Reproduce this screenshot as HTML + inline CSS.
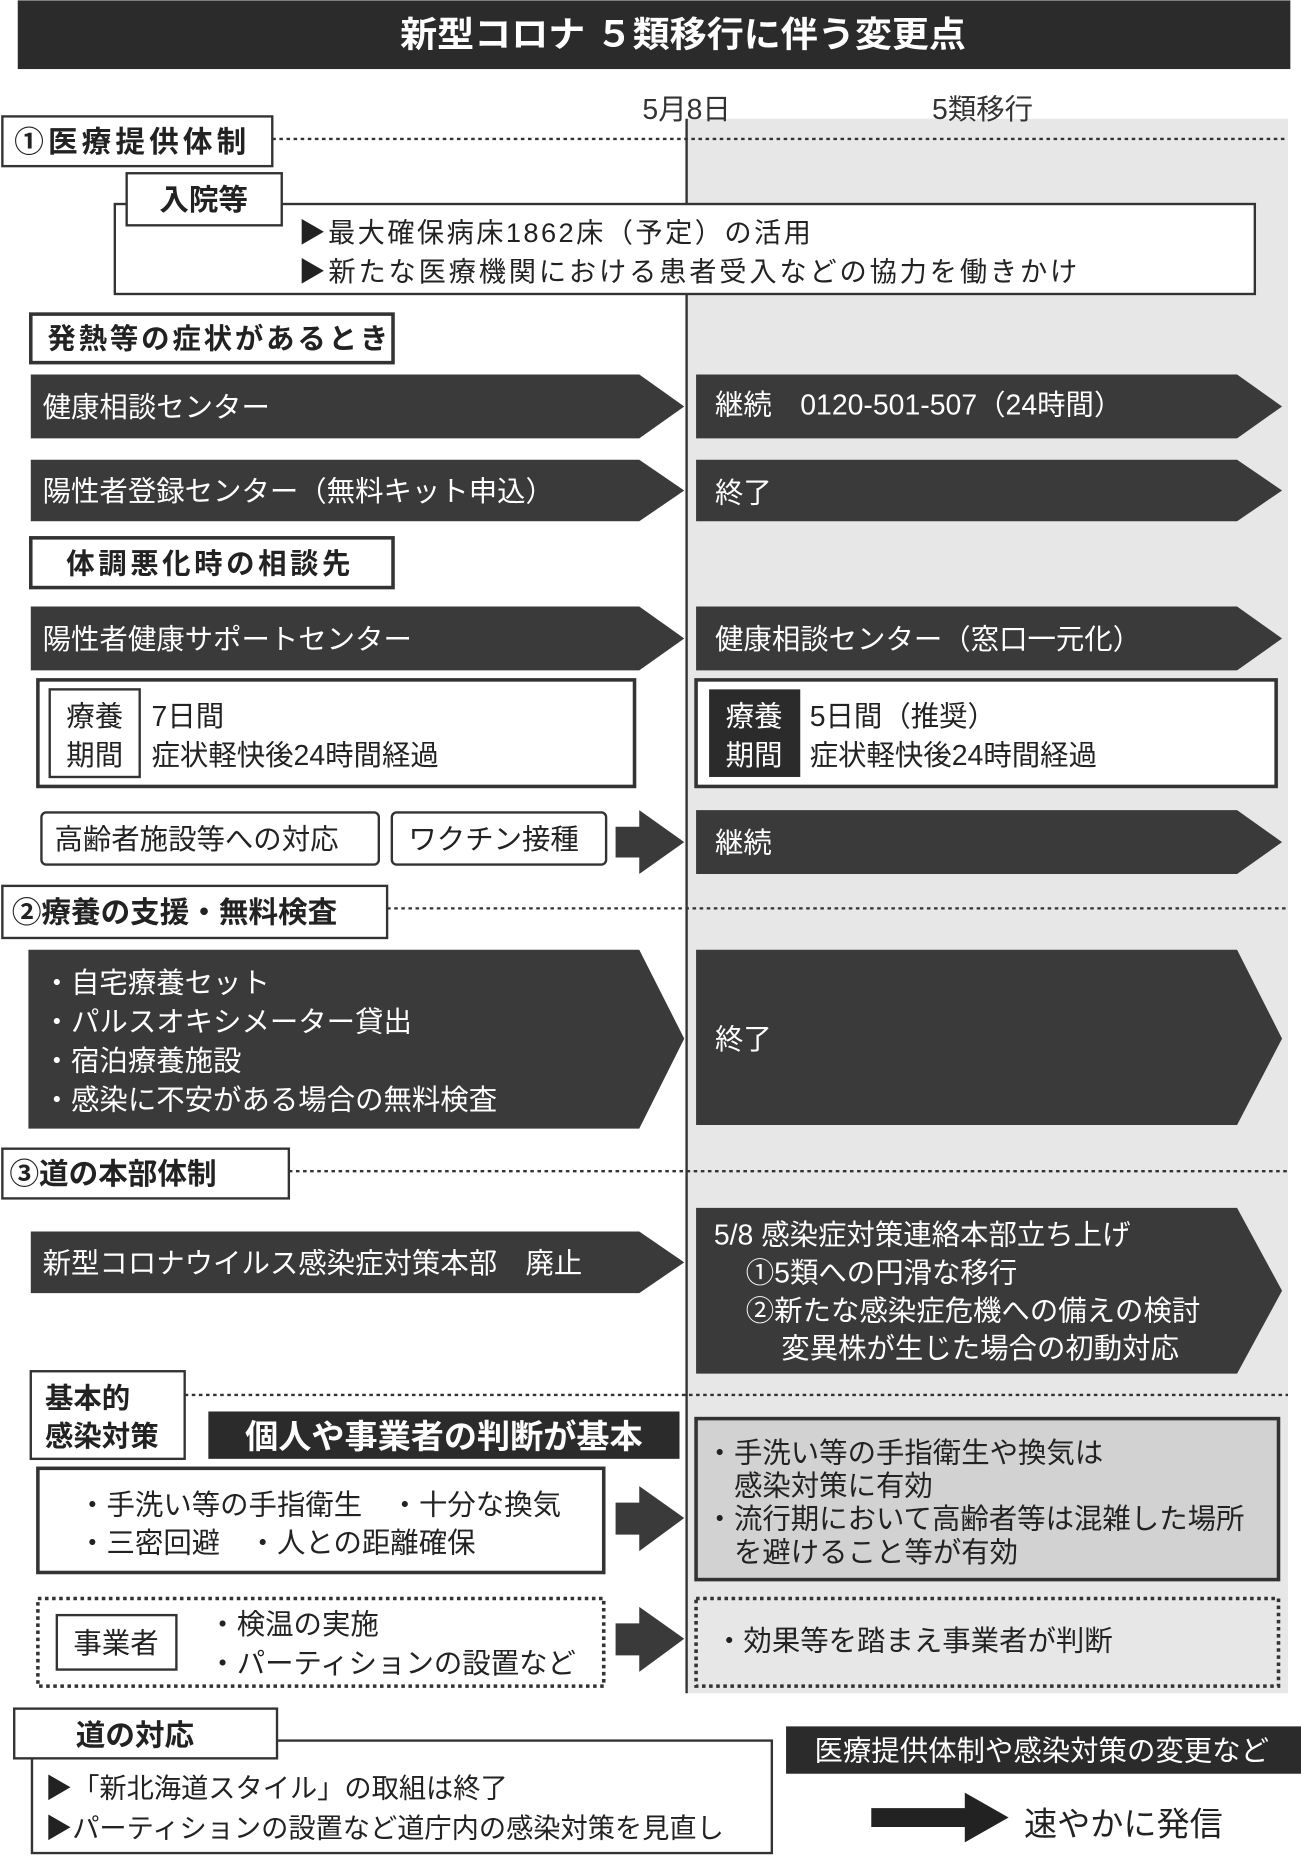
<!DOCTYPE html>
<html><head><meta charset="utf-8"><style>
html,body{margin:0;padding:0;background:#fff;}
svg{display:block;}
text{font-family:"Liberation Sans","Noto Sans CJK JP",sans-serif;}
.b{font-weight:bold;}
</style></head><body>
<svg width="1301" height="1857" viewBox="0 0 1099 1568" xmlns="http://www.w3.org/2000/svg">
<rect x="0" y="0" width="1099" height="1568" fill="#fff"/>
<rect x="15" y="0" width="1075" height="58" fill="#2b2b2b"/>
<text x="338" y="39" font-size="30" fill="#fff" class="b" textLength="478" lengthAdjust="spacingAndGlyphs">新型コロナ ５類移行に伴う変更点</text>
<rect x="580" y="100" width="508" height="1330" fill="#e7e7e7"/>
<line x1="580" y1="100" x2="580" y2="1430" stroke="#333" stroke-width="2"/>
<text x="580" y="100" font-size="24" fill="#333" text-anchor="middle">5月8日</text>
<text x="830" y="100" font-size="24" fill="#333" text-anchor="middle">5類移行</text>

<g stroke="#333" stroke-width="2" stroke-dasharray="3,3" fill="none">
<line x1="230" y1="117" x2="1088" y2="117"/>
<line x1="327" y1="767" x2="1088" y2="767"/>
<line x1="244" y1="989" x2="1088" y2="989"/>
<line x1="156" y1="1178" x2="1088" y2="1178"/>
</g>

<rect x="2" y="98" width="228" height="42" fill="#fff" stroke="#333" stroke-width="2"/>
<text x="12" y="128" font-size="25" class="b" fill="#222" textLength="196">①医療提供体制</text>
<rect x="97" y="172" width="963" height="76" fill="#fff" stroke="#333" stroke-width="2"/>
<rect x="107" y="146" width="131" height="44" fill="#fff" stroke="#333" stroke-width="2"/>
<text x="172" y="177" font-size="25" class="b" fill="#222" text-anchor="middle">入院等</text>
<text x="252" y="204" font-size="23" fill="#222" textLength="433">▶最大確保病床1862床（予定）の活用</text>
<text x="252" y="237" font-size="23" fill="#222" textLength="658">▶新たな医療機関における患者受入などの協力を働きかけ</text>

<rect x="26" y="265" width="306" height="41" fill="#fff" stroke="#333" stroke-width="3"/>
<text x="40" y="294" font-size="24" class="b" fill="#222" textLength="288">発熱等の症状があるとき</text>

<g fill="#3a3a3a">
<polygon points="26,316 540,316 578,343 540,370 26,370"/>
<polygon points="588,316 1045,316 1083,343 1045,370 588,370"/>
<polygon points="26,388 540,388 578,414 540,440 26,440"/>
<polygon points="588,388 1045,388 1083,414 1045,440 588,440"/>
<polygon points="26,512 540,512 578,539 540,566 26,566"/>
<polygon points="588,512 1045,512 1083,539 1045,566 588,566"/>
<polygon points="588,684 1045,684 1083,711 1045,738 588,738"/>
<polygon points="520,698 540,698 540,684 578,711 540,738 540,724 520,724"/>
<polygon points="24,802 540,802 578,877 540,953 24,953"/>
<polygon points="588,802 1045,802 1083,877 1045,950 588,950"/>
<polygon points="26,1040 540,1040 578,1066 540,1092 26,1092"/>
<polygon points="588,1020 1045,1020 1083,1090 1045,1160 588,1160"/>
<polygon points="520,1269 540,1269 540,1255 578,1282 540,1310 540,1296 520,1296"/>
<polygon points="520,1371 540,1371 540,1357 578,1384 540,1412 540,1398 520,1398"/>
</g>
<g fill="#fff" font-size="24">
<text x="36" y="352">健康相談センター</text>
<text x="604" y="350">継続　0120-501-507（24時間）</text>
<text x="36" y="423">陽性者登録センター（無料キット申込）</text>
<text x="604" y="424">終了</text>
<text x="36" y="548">陽性者健康サポートセンター</text>
<text x="604" y="548">健康相談センター（窓口一元化）</text>
<text x="604" y="720">継続</text>
<text x="36" y="838">・自宅療養セット</text>
<text x="36" y="871">・パルスオキシメーター貸出</text>
<text x="36" y="904">・宿泊療養施設</text>
<text x="36" y="937">・感染に不安がある場合の無料検査</text>
<text x="604" y="886">終了</text>
<text x="36" y="1075">新型コロナウイルス感染症対策本部　廃止</text>
<text x="603" y="1051">5/8 感染症対策連絡本部立ち上げ</text>
<text x="630" y="1083">①5類への円滑な移行</text>
<text x="630" y="1115">②新たな感染症危機への備えの検討</text>
<text x="660" y="1147">変異株が生じた場合の初動対応</text>
</g>

<rect x="26" y="454" width="306" height="42" fill="#fff" stroke="#333" stroke-width="3"/>
<text x="56" y="484" font-size="24" class="b" fill="#222" textLength="240">体調悪化時の相談先</text>

<rect x="32" y="574" width="504" height="90" fill="#fff" stroke="#333" stroke-width="3"/>
<rect x="42" y="582" width="76" height="74" fill="#fff" stroke="#333" stroke-width="2"/>
<g font-size="24" fill="#222">
<text x="80" y="613" text-anchor="middle">療養</text>
<text x="80" y="646" text-anchor="middle">期間</text>
<text x="128" y="613">7日間</text>
<text x="128" y="646">症状軽快後24時間経過</text>
</g>
<rect x="588" y="574" width="490" height="90" fill="#fff" stroke="#333" stroke-width="3"/>
<rect x="599" y="582" width="77" height="74" fill="#2b2b2b"/>
<g font-size="24">
<text x="637" y="613" text-anchor="middle" fill="#fff">療養</text>
<text x="637" y="646" text-anchor="middle" fill="#fff">期間</text>
<text x="684" y="613" fill="#222">5日間（推奨）</text>
<text x="684" y="646" fill="#222">症状軽快後24時間経過</text>
</g>

<rect x="35" y="686" width="285" height="44" rx="4" fill="#fff" stroke="#333" stroke-width="2"/>
<text x="46" y="717" font-size="24" fill="#222">高齢者施設等への対応</text>
<rect x="331" y="686" width="181" height="44" rx="4" fill="#fff" stroke="#333" stroke-width="2"/>
<text x="345" y="717" font-size="24" fill="#222">ワクチン接種</text>

<rect x="2" y="748" width="325" height="44" fill="#fff" stroke="#333" stroke-width="2"/>
<text x="10" y="779" font-size="25" class="b" fill="#222">②療養の支援・無料検査</text>

<rect x="2" y="970" width="242" height="42" fill="#fff" stroke="#333" stroke-width="2"/>
<text x="8" y="1000" font-size="25" class="b" fill="#222">③道の本部体制</text>

<rect x="26" y="1158" width="130" height="74" fill="#fff" stroke="#333" stroke-width="2"/>
<text x="38" y="1189" font-size="24" class="b" fill="#222">基本的</text>
<text x="38" y="1221" font-size="24" class="b" fill="#222">感染対策</text>
<rect x="176" y="1192" width="398" height="40" fill="#2b2b2b"/>
<text x="375" y="1223" font-size="28" class="b" fill="#fff" text-anchor="middle">個人や事業者の判断が基本</text>
<rect x="32" y="1240" width="478" height="88" fill="#fff" stroke="#333" stroke-width="3"/>
<text x="66" y="1279" font-size="24" fill="#222">・手洗い等の手指衛生　・十分な換気</text>
<text x="66" y="1311" font-size="24" fill="#222">・三密回避　・人との距離確保</text>
<rect x="588" y="1198" width="492" height="136" fill="#d2d2d2" stroke="#333" stroke-width="3"/>
<g font-size="24" fill="#222">
<text x="596" y="1235">・手洗い等の手指衛生や換気は</text>
<text x="620" y="1263">感染対策に有効</text>
<text x="596" y="1291">・流行期において高齢者等は混雑した場所</text>
<text x="620" y="1319">を避けること等が有効</text>
</g>
<rect x="32" y="1350" width="478" height="74" fill="#fff" stroke="#333" stroke-width="3" stroke-dasharray="3,3"/>
<rect x="48" y="1364" width="101" height="46" fill="#fff" stroke="#333" stroke-width="2"/>
<text x="98" y="1396" font-size="24" fill="#222" text-anchor="middle">事業者</text>
<text x="176" y="1380" font-size="24" fill="#222">・検温の実施</text>
<text x="176" y="1413" font-size="24" fill="#222">・パーティションの設置など</text>
<rect x="588" y="1350" width="492" height="74" fill="#e7e7e7" stroke="#333" stroke-width="3" stroke-dasharray="3,3"/>
<text x="604" y="1394" font-size="24" fill="#222">・効果等を踏まえ事業者が判断</text>

<rect x="27" y="1470" width="625" height="95" fill="#fff" stroke="#333" stroke-width="2"/>
<rect x="12" y="1443" width="222" height="42" fill="#fff" stroke="#333" stroke-width="2"/>
<text x="114" y="1474" font-size="25" class="b" fill="#222" text-anchor="middle">道の対応</text>
<text x="38" y="1518" font-size="23" fill="#222">▶「新北海道スタイル」の取組は終了</text>
<text x="38" y="1552" font-size="23" fill="#222">▶パーティションの設置など道庁内の感染対策を見直し</text>
<rect x="664" y="1458" width="435" height="40" fill="#2b2b2b"/>
<text x="880" y="1487" font-size="24" fill="#fff" text-anchor="middle">医療提供体制や感染対策の変更など</text>
<polygon points="736,1527 815,1527 815,1514 852,1535 815,1556 815,1543 736,1543" fill="#222"/>
<text x="865" y="1550" font-size="28" fill="#222">速やかに発信</text>
</svg>
</body></html>
